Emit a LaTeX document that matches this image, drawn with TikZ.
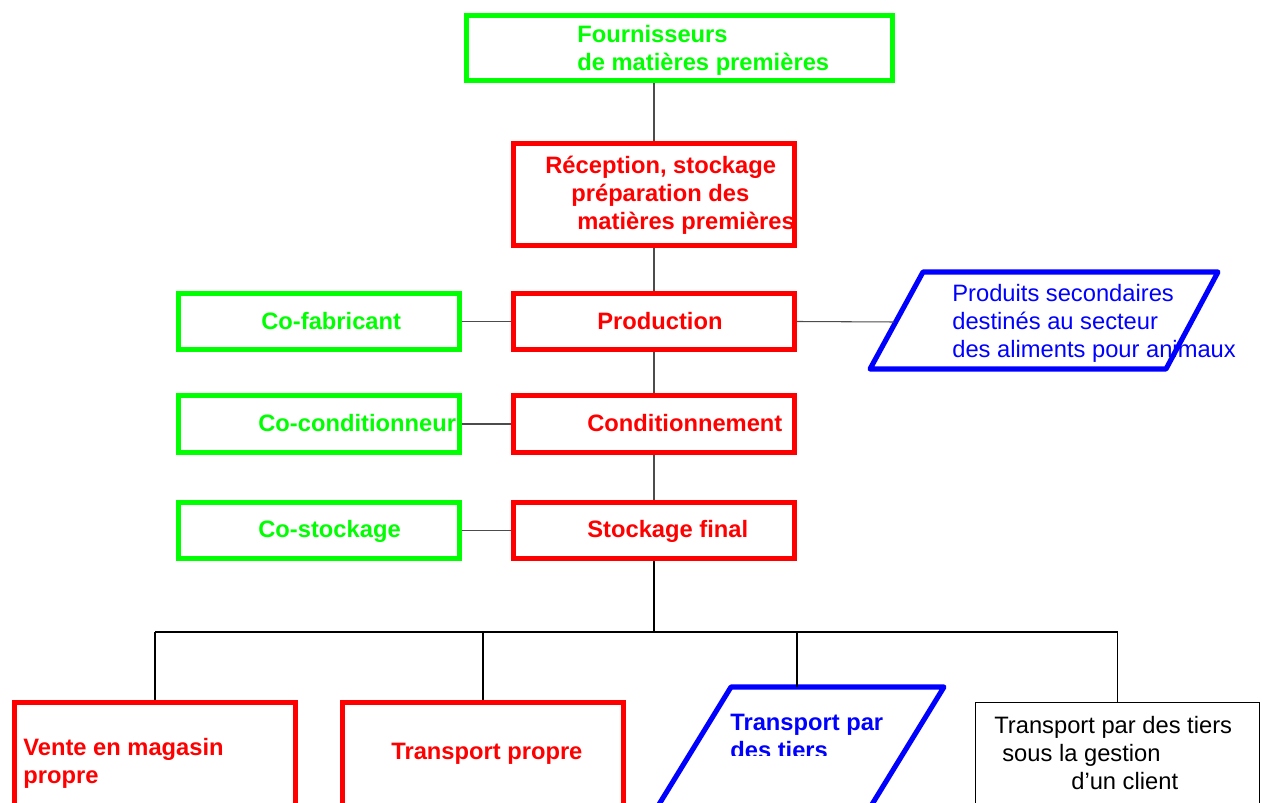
\documentclass[tikz,border=0pt]{standalone}
\usepackage{fontspec}
\setmainfont{Liberation Sans}

\begin{document}
\begin{tikzpicture}[x=0.02cm, y=-0.02cm,
	box/.style={draw, inner sep=0pt, minimum width=5.62cm, minimum height=1.12cm},
	redbox/.style={box, draw=red, line width=2.9pt},
	greenbox/.style={box, draw=green, line width=2.9pt},
	bluebox/.style={draw=blue, line width=2.9pt, line join=round},
	link/.style={draw=black!70, line width=0.6pt},
	fork/.style={draw=black, line width=0.6pt},
	txt/.style={inner sep=0pt, anchor=base west, align=left, font=\fontsize{13.5}{16.2}\selectfont\bfseries},
	plain/.style={inner sep=0pt, anchor=base west, align=left, font=\fontsize{13.5}{16.2}\selectfont}]
	\useasboundingbox (0,0) rectangle (1262,803);

	% main chain
	\node [greenbox, minimum width=8.52cm, minimum height=1.3cm] (four) at (679.5,48) {};
	\node [redbox, minimum height=2.04cm] (recep) at (654,194.5) {};
	\node [redbox] (prod) at (654,321.5) {};
	\node [redbox, minimum height=1.14cm] (cond) at (654,424) {};
	\node [redbox] (stock) at (654,530.5) {};

	% (multi-line texts sit on their last baseline)
	\node [txt, text=green] (four-t) at (577,70.5) {Fournisseurs\\de matières premières};
	\node [txt, text=red] (recep-t) at (545,230) {Réception, stockage\\\hspace*{0.52cm}préparation des\\\hspace*{0.64cm}matières premières};
	\node [txt, text=red] (prod-t) at (597,330) {Production};
	\node [txt, text=red] (cond-t) at (587,432) {Conditionnement};
	\node [txt, text=red] (stock-t) at (587,538) {Stockage final};

	% co-partners
	\node [greenbox] (cofab) at (319,321.5) {};
	\node [greenbox, minimum height=1.14cm] (cocond) at (319,424) {};
	\node [greenbox] (costock) at (319,530.5) {};

	\node [txt, text=green] (cofab-t) at (261,330) {Co-fabricant};
	\node [txt, text=green] (cocond-t) at (258,432) {Co-conditionneur};
	\node [txt, text=green] (costock-t) at (258,538) {Co-stockage};

	% by-products
	\draw [bluebox] (923,272) -- (1218,272) -- (1166,369) -- (870,369) -- cycle;
	\coordinate (sec-w) at (894,322);
	\node [plain, text=blue] (sec-t) at (952,358) {Produits secondaires\\destinés au secteur\\des aliments pour animaux};

	% outlets
	\node [redbox, minimum height=2.54cm] (vente) at (155,766) {};
	\node [redbox, minimum height=2.54cm] (tprop) at (483,766) {};
	\node [box, line width=0.6pt, minimum width=5.68cm, minimum height=2.55cm] (client) at (1117.5,766) {};
	\draw [bluebox] (731,687) -- (944,687) -- (871,806) -- (658,806) -- cycle;
	\coordinate (tiers-n) at (797,687);

	\node [txt, text=red] (vente-t) at (23,783.5) {Vente en magasin\\propre};
	\node [txt, text=red] (tprop-t) at (391,760) {Transport propre};
	\begin{scope}
		\clip (700,700) rectangle (940,756);
		\node [txt, text=blue] (tiers-t) at (730,758.5) {Transport par\\des tiers};
	\end{scope}
	\node [plain] (client-t) at (994,790) {Transport par des tiers\\\hspace*{0.16cm}sous la gestion\\\hspace*{1.54cm}d’un client};

	% links
	\draw [link] (recep.north) -- (recep.north |- four.south);
	\draw [link] (recep.south) -- (prod.north);
	\draw [link] (prod.south) -- (cond.north);
	\draw [link] (cond.south) -- (stock.north);
	\draw [link] (cofab.east) -- (prod.west);
	\draw [link] (cocond.east) -- (cond.west);
	\draw [link] (costock.east) -- (stock.west);
	\draw [link] (prod.east) -- (sec-w);

	\coordinate (split) at (654,632);
	\draw [fork] (stock.south) -- (split);
	\draw [fork] (vente.north |- split) -- (client.north |- split);
	\draw [fork] (vente.north) -- (vente.north |- split);
	\draw [fork] (tprop.north) -- (tprop.north |- split);
	\draw [fork] (tiers-n) -- (tiers-n |- split);
	\draw [fork] (client.north) -- (client.north |- split);
\end{tikzpicture}
\end{document}
